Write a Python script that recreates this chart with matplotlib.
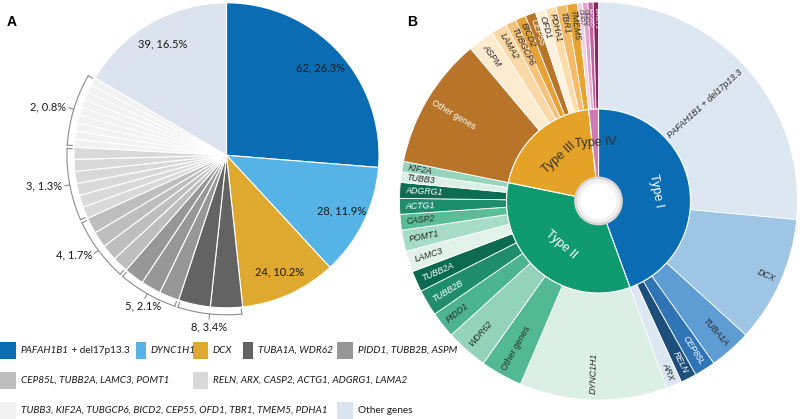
import numpy as np
import matplotlib
matplotlib.use("Agg")
import matplotlib.pyplot as plt
from matplotlib.patches import Rectangle, Circle

W, H = 800, 419

# ---------------- panel A data ----------------
a_groups = ["PAFAH1B1 + del17p13.3", "DYNC1H1", "DCX", "TUBA1A, WDR62",
            "PIDD1, TUBB2B, ASPM", "CEP85L, TUBB2A, LAMC3, POMT1",
            "RELN, ARX, CASP2, ACTG1, ADGRG1, LAMA2",
            "TUBB3, KIF2A, TUBGCP6, BICD2, CEP55, OFD1, TBR1, TMEM5, PDHA1",
            "Other genes"]
a_per_gene = [62, 28, 24, 8, 5, 4, 3, 2, 39]
a_n_genes = [1, 1, 1, 2, 3, 4, 6, 9, 1]
a_colors = ["#0a6db3", "#56b3e6", "#dfa82f", "#636363", "#979797",
            "#bebebe", "#d9d9d9", "#f2f2f2", "#dae3ee"]

# ---------------- panel B data ----------------
type_names = ["Type I", "Type II", "Type III", "Type IV"]
type_colors = ["#0a6db3", "#0f9a6f", "#e4a226", "#cf7ab3"]
type_text = ["white", "white", "#333333", "#333333"]

t1_genes = ["PAFAH1B1 + del17p13.3", "DCX", "TUBA1A", "CEP85L", "RELN", "ARX"]
t1_counts = [62, 24, 8, 4, 3, 3]
t1_colors = ["#dce7f2", "#9fc5e5", "#5e9cd4", "#2f74b5", "#1d4e7c", "#dce7f2"]

t2_genes = ["DYNC1H1", "Other genes", "WDR62", "PIDD1", "TUBB2B", "TUBB2A",
            "LAMC3", "POMT1", "CASP2", "ACTG1", "ADGRG1", "TUBB3", "KIF2A"]
t2_counts = [28, 8, 8, 5, 5, 4, 4, 4, 3, 3, 3, 2, 2]
t2_colors = ["#dcefe5", "#52b994", "#94d3bb", "#4cb490", "#1f8d6c", "#0b6a50",
             "#e2f2ea", "#a7dcc8", "#5abd98", "#1d8e6b", "#0d6d52", "#dcefe6",
             "#96d4bc"]

t3_genes = ["Other genes", "ASPM", "LAMA2", "TUBGCP6", "BICD2", "CEP55",
            "OFD1", "PDHA1", "TBR1", "TMEM5"]
t3_counts = [25, 5, 3, 2, 2, 2, 2, 2, 2, 2]
t3_colors = ["#b8752a", "#fdebd0", "#fad9a6", "#f6c27a", "#e6a237", "#b8752a",
             "#fef2de", "#fbdcaa", "#f4bb6a", "#e6a530"]

t4_genes = ["CHD7", "CHD2", "EP300", "EHMT1"]
t4_counts = [1, 1, 1, 1]
t4_colors = ["#f2d3e6", "#dea6ca", "#c3629f", "#8b2562"]


def polar(cx, cy, r, theta):
    # theta: degrees clockwise from 12 o'clock
    t = np.radians(theta)
    return cx + r * np.sin(t), cy + r * np.cos(t)


fig = plt.figure(figsize=(8, 4.19), dpi=100)
ax = fig.add_axes([0, 0, 1, 1])

# ---------------- panel A: pie ----------------
ca = (226.5, H - 155.3)
Ra = 152.5
a_slices, a_cols = [], []
for c, n, col in zip(a_per_gene, a_n_genes, a_colors):
    a_slices += [c] * n
    a_cols += [col] * n
total = sum(a_slices)
ax.pie(a_slices, colors=a_cols, startangle=90, counterclock=False,
       radius=Ra, center=ca,
       wedgeprops=dict(edgecolor="white", linewidth=0.8))

fa = dict(family="Lato", fontsize=8, color="#1a1a1a")
cum = 0
for c, n in zip(a_per_gene, a_n_genes):
    th0 = cum / total * 360
    cum += c * n
    th1 = cum / total * 360
    mid = (th0 + th1) / 2
    lab = f"{c}, {100 * c / total:.1f}%"
    if n == 1:
        x, y = polar(*ca, Ra * 0.84, mid)
        ax.text(x, y, lab, ha="center", va="center", **fa)
    else:
        # bracket around the group
        th = np.linspace(th0 + 0.6, th1 - 0.6, 40)
        rb = Ra + 7
        xs, ys = polar(*ca, rb, th)
        ax.plot(xs, ys, color="#8c8c8c", lw=0.8)
        for te in (th0 + 0.6, th1 - 0.6):
            p0 = polar(*ca, Ra + 2, te)
            p1 = polar(*ca, rb, te)
            ax.plot([p0[0], p1[0]], [p0[1], p1[1]], color="#8c8c8c", lw=0.8)
        p0 = polar(*ca, rb, mid)
        p1 = polar(*ca, rb + 5, mid)
        ax.plot([p0[0], p1[0]], [p0[1], p1[1]], color="#8c8c8c", lw=0.8)
        x, y = polar(*ca, Ra + 15, mid)
        if np.sin(np.radians(mid)) < -0.6:
            ax.text(x, y, lab, ha="right", va="center", **fa)
        else:
            ax.text(x, y, lab, ha="center", va="top", **fa)

# ---------------- legend A ----------------
leg_pos = [(0, 350, 16), (136, 350, 10), (193, 350, 15), (243, 350, 10),
           (337, 350, 16), (0, 380, 16), (193, 380, 15), (0, 410, 16),
           (337, 410, 16)]
lf = dict(family="Lato", fontsize=7.2, color="#1a1a1a")
for (lx, ly, lw_), name, col in zip(leg_pos, a_groups, a_colors):
    ax.add_patch(Rectangle((lx, H - ly - 8.5), lw_, 17, fc=col, ec="none"))
    tx = lx + lw_ + 5
    if name.startswith("PAFAH1B1"):
        t = ax.text(tx, H - ly, "PAFAH1B1", style="italic", va="center",
                    ha="left", **lf)
        ax.annotate(" + del17p13.3", xy=(1, 0.5), xycoords=t, va="center",
                    ha="left", **lf)
    else:
        ax.text(tx, H - ly, name, va="center", ha="left",
                style="normal" if name == "Other genes" else "italic", **lf)

# ---------------- panel B: sunburst ----------------
cb = (598.5, H - 201)
R_out, R_mid, R_hole = 199, 92, 23
genes = t1_genes + t2_genes + t3_genes + t4_genes
counts = t1_counts + t2_counts + t3_counts + t4_counts
cols = t1_colors + t2_colors + t3_colors + t4_colors
type_tot = [sum(t1_counts), sum(t2_counts), sum(t3_counts), sum(t4_counts)]

ax.pie(counts, colors=cols, startangle=90, counterclock=False,
       radius=R_out, center=cb,
       wedgeprops=dict(width=R_out - R_mid, edgecolor="white", linewidth=0.6))
ax.pie(type_tot, colors=type_colors, startangle=90, counterclock=False,
       radius=R_mid, center=cb,
       wedgeprops=dict(width=R_mid - R_hole, edgecolor="white", linewidth=0.8))

btot = sum(counts)
cum = 0
for g, c, col in zip(genes, counts, cols):
    mid = (cum + c / 2) / btot * 360
    cum += c
    rgb = matplotlib.colors.to_rgb(col)
    lum = 0.2126 * rgb[0] + 0.7152 * rgb[1] + 0.0722 * rgb[2]
    tc = "white" if lum < 0.5 else "#2a2a2a"
    x, y = polar(*cb, R_out - 6, mid)
    if mid <= 180.5:
        rot, ha = 90 - mid, "right"
    else:
        rot, ha = 270 - mid, "left"
    ax.text(x, y, g, rotation=rot, rotation_mode="anchor", ha=ha, va="center",
            family="Liberation Sans", fontsize=6.4 if c > 1 else 4.5,
            color=tc, style="normal" if g == "Other genes" else "italic")

cum = 0
for name, c, tc in zip(type_names, type_tot, type_text):
    mid = (cum + c / 2) / btot * 360
    cum += c
    x, y = polar(*cb, 58, mid)
    rot = (-mid + 90) % 180 - 90
    ax.text(x, y, name, rotation=rot, rotation_mode="anchor", ha="center",
            va="center", family="Liberation Sans", fontsize=9, color=tc)

ax.add_patch(Circle(cb, R_hole, fc="white", ec="#d6d6d6", lw=2.0, zorder=5))
ax.add_patch(Circle(cb, R_hole - 3, fc="white", ec="#f0f0f0", lw=2.5, zorder=6))

# panel letters
ax.text(12, H - 22, "A", fontsize=10, fontweight="bold", family="Liberation Sans",
        ha="center", va="center")
ax.text(412, H - 22, "B", fontsize=10, fontweight="bold", family="Liberation Sans",
        ha="center", va="center")

ax.set_xlim(0, W)
ax.set_ylim(0, H)
ax.set_aspect("auto")
ax.axis("off")
fig.savefig("out.png", dpi=100)
